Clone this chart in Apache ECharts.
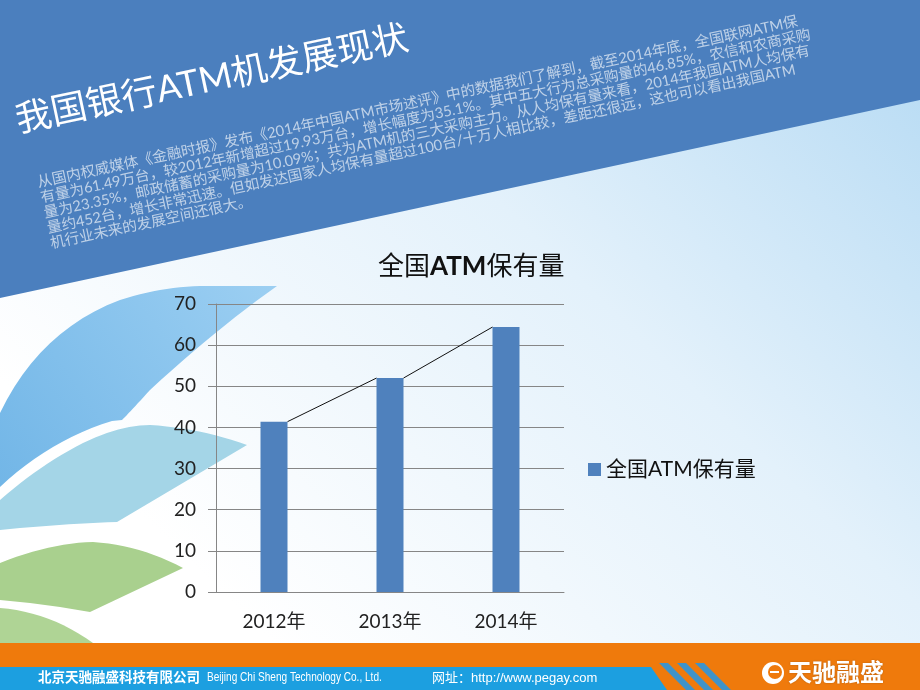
<!DOCTYPE html>
<html>
<head>
<meta charset="utf-8">
<script src="https://cdn.jsdelivr.net/npm/echarts@6/dist/echarts.min.js"></script>
<style>
html, body { margin: 0; padding: 0; background: #fff; }
#main { width: 920px; height: 690px; }
</style>
</head>
<body>
<div id="main"></div>
<script>
// chart data
var years = ['2012年', '2013年', '2014年'];
var atmStock = [41.4, 52.0, 64.4];
var yMin = 0, yMax = 70, yStep = 10;
var seriesName = '全国ATM保有量';

// slide text
var slideTitle = '我国银行ATM机发展现状';
var paragraph = [
	'从国内权威媒体《金融时报》发布《2014年中国ATM市场述评》中的数据我们了解到，截至2014年底，全国联网ATM保',
	'有量为61.49万台，较2012年新增超过19.93万台，增长幅度为35.1%。其中五大行为总采购量的46.85%，农信和农商采购',
	'量为23.35%，邮政储蓄的采购量为10.09%；共为ATM机的三大采购主力。从人均保有量来看，2014年我国ATM人均保有',
	'量约452台，增长非常迅速。但如发达国家人均保有量超过100台/十万人相比较，差距还很远，这也可以看出我国ATM',
	'机行业未来的发展空间还很大。'
];
var footerCompany = '北京天驰融盛科技有限公司';
var footerEnglish = 'Beijing Chi Sheng Technology Co., Ltd.';
var footerSite = '网址：http://www.pegay.com';
var logoText = '天驰融盛';

var FONT = 'Lato, "Noto Sans CJK SC", sans-serif';
var barW = 27;
var tilt = 12 * Math.PI / 180;

var myChart = echarts.init(document.getElementById('main'));

// pairs of neighbouring bars for the series lines
var pairs = [];
for (var i = 0; i < atmStock.length - 1; i++) {
	pairs.push([i, atmStock[i], i + 1, atmStock[i + 1]]);
}

// outline helper for the leaf shapes: start point, then [ctrl, end] quads or plain points
function outline(start, segs) {
	var pts = [start], cur = start;
	segs.forEach(function (s) {
		if (s.length === 2 && Array.isArray(s[0])) {
			for (var k = 1; k <= 12; k++) {
				var t = k / 12, u = 1 - t;
				pts.push([u * u * cur[0] + 2 * u * t * s[0][0] + t * t * s[1][0],
					u * u * cur[1] + 2 * u * t * s[0][1] + t * t * s[1][1]]);
			}
			cur = s[1];
		} else {
			pts.push(s);
			cur = s;
		}
	});
	return pts;
}

var leaf1 = outline([0, 413], [[[40, 330], [120, 300]], [[160, 287], [200, 286]], [277, 286],
	[[215, 330], [150, 390]], [[130, 412], [122, 420]], [112, 421], [[50, 440], [0, 487]]]);
var leaf2 = outline([0, 500], [[[40, 465], [83, 443]], [[120, 425], [150, 425]], [[200, 428], [247, 445]],
	[117, 522], [[60, 524], [0, 530]]]);
var leaf3 = outline([0, 563], [[[50, 543], [93, 542]], [[140, 545], [183, 568]], [90, 612], [[45, 604], [0, 600]]]);
var leaf4 = outline([0, 608], [[[50, 612], [93, 643]], [0, 643]]);

var decor = [
	// slide background
	{
		type: 'rect', z: -10, shape: {x: 0, y: 0, width: 920, height: 690},
		style: {fill: new echarts.graphic.LinearGradient(1, 0.1, 0.35, 1, [
			{offset: 0, color: '#b9dcf4'},
			{offset: 0.45, color: '#e3f1fb'},
			{offset: 1, color: '#ffffff'}
		])}
	},
	// top blue band
	{
		type: 'polygon', z: -9,
		shape: {points: [[0, 0], [920, 0], [920, 100], [0, 298]]},
		style: {fill: '#4b7fbe'}
	},
	// left leaves
	{
		type: 'polygon', z: -9, shape: {points: leaf1},
		style: {fill: new echarts.graphic.LinearGradient(1, 0, 0, 1, [
			{offset: 0, color: '#9ccff2'},
			{offset: 1, color: '#72b6e7'}
		])}
	},
	{type: 'polygon', z: -9, shape: {points: leaf2}, style: {fill: '#a4d5e7'}},
	{type: 'polygon', z: -9, shape: {points: leaf3}, style: {fill: '#a9d08e'}},
	{type: 'polygon', z: -9, shape: {points: leaf4}, style: {fill: '#afd495'}},
	// footer
	{
		type: 'rect', z: -9, shape: {x: 0, y: 643, width: 920, height: 47},
		style: {fill: '#ef7a0c'}
	},
	{
		type: 'polygon', z: -8,
		shape: {points: [[0, 667], [651, 667], [667, 690], [0, 690]]},
		style: {fill: '#1c9fe0'}
	},
	{type: 'polygon', z: -8, shape: {points: [[659, 663], [668, 663], [695, 690], [686, 690]]}, style: {fill: '#3f93c9'}},
	{type: 'polygon', z: -8, shape: {points: [[677, 663], [686, 663], [713, 690], [704, 690]]}, style: {fill: '#3f93c9'}},
	{type: 'polygon', z: -8, shape: {points: [[695, 663], [704, 663], [731, 690], [722, 690]]}, style: {fill: '#3f93c9'}},
	// logo mark
	{type: 'circle', z: -7, shape: {cx: 773, cy: 673, r: 11}, style: {fill: '#fff'}},
	{type: 'circle', z: -7, shape: {cx: 775, cy: 672, r: 7}, style: {fill: '#ef7a0c'}},
	{type: 'rect', z: -7, shape: {x: 770, y: 671, width: 9, height: 2}, style: {fill: '#fff'}},
	// titles and text on the band
	{
		type: 'text', z: 5, x: 16, y: 121, rotation: tilt,
		style: {text: slideTitle, fill: '#ffffff', fontSize: 36, fontFamily: FONT,
			verticalAlign: 'middle', textAlign: 'left'}
	},
	{
		type: 'text', z: 5, x: 36, y: 175, rotation: tilt,
		style: {text: paragraph.join('\n'), fill: 'rgba(255,255,255,0.64)', fontSize: 14.7,
			lineHeight: 15.6, fontFamily: FONT, verticalAlign: 'top', textAlign: 'left'}
	},
	{
		type: 'text', z: 5, x: 38, y: 678,
		style: {text: footerCompany, fill: '#fff', fontSize: 13.5, fontWeight: 'bold', fontFamily: FONT,
			verticalAlign: 'middle'}
	},
	{
		type: 'text', z: 5, x: 207, y: 678, scaleX: 0.84,
		style: {text: footerEnglish, fill: '#fff', fontSize: 12,
			fontFamily: '"Liberation Sans", sans-serif', verticalAlign: 'middle'}
	},
	{
		type: 'text', z: 5, x: 432, y: 678,
		style: {text: footerSite, fill: '#fff', fontSize: 13,
			fontFamily: '"Liberation Sans", "Noto Sans CJK SC", sans-serif', verticalAlign: 'middle'}
	},
	{
		type: 'text', z: 5, x: 788, y: 673,
		style: {text: logoText, fill: '#fff', fontSize: 24, fontWeight: 'bold', fontFamily: FONT,
			verticalAlign: 'middle', textShadowColor: 'rgba(0,0,0,0.25)', textShadowBlur: 2}
	}
];

var option = {
	animation: false,
	title: {
		text: '全国{b|ATM}保有量',
		left: 373,
		top: 249,
		textStyle: {
			fontSize: 26, fontWeight: 'normal', color: '#111', fontFamily: FONT,
			rich: {b: {fontSize: 26, fontWeight: 'bold', color: '#111', fontFamily: FONT}}
		}
	},
	legend: {
		data: [seriesName],
		left: 583,
		top: 454,
		icon: 'rect',
		itemWidth: 13,
		itemHeight: 13,
		textStyle: {fontSize: 21, color: '#111', fontFamily: FONT}
	},
	grid: {left: 216, right: 356, top: 304, bottom: 98},
	xAxis: {
		type: 'category',
		data: years,
		axisLine: {lineStyle: {color: '#868686'}},
		axisTick: {show: false},
		axisLabel: {fontSize: 19, color: '#222', margin: 20, fontFamily: FONT}
	},
	yAxis: {
		type: 'value',
		min: yMin,
		max: yMax,
		interval: yStep,
		axisLine: {show: true, lineStyle: {color: '#868686'}},
		axisTick: {show: true, length: 8, lineStyle: {color: '#868686'}},
		splitLine: {lineStyle: {color: '#868686', width: 1}},
		axisLabel: {fontSize: 19, color: '#222', margin: 20, fontFamily: FONT}
	},
	graphic: {elements: decor},
	series: [
		{
			name: seriesName,
			type: 'bar',
			data: atmStock,
			barWidth: barW,
			itemStyle: {color: '#4f81bd'}
		},
		{
			name: 'series-lines',
			type: 'custom',
			coordinateSystem: 'cartesian2d',
			data: pairs,
			encode: {x: [0, 2], y: [1, 3]},
			silent: true,
			z: 3,
			renderItem: function (params, api) {
				var a = api.coord([api.value(0), api.value(1)]);
				var b = api.coord([api.value(2), api.value(3)]);
				return {
					type: 'line',
					shape: {x1: a[0] + barW / 2, y1: a[1], x2: b[0] - barW / 2, y2: b[1]},
					style: {stroke: '#111', lineWidth: 1}
				};
			}
		}
	]
};

myChart.setOption(option);
</script>
</body>
</html>
